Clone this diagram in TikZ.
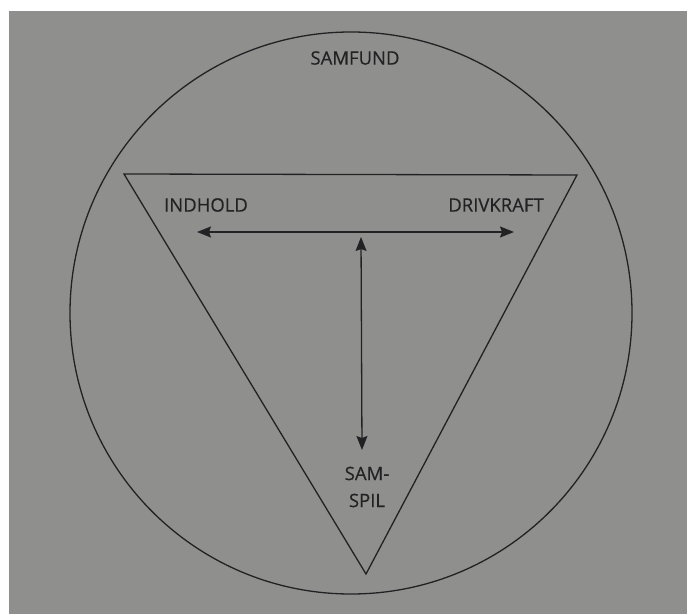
\documentclass[tikz,border=0pt]{standalone}
\usepackage{fontspec}
\setmainfont{Open Sans}
\newfontfamily\lblfont{Open Sans}[FakeBold=0.35]
\usetikzlibrary{arrows.meta}
\definecolor{paper}{RGB}{143,143,142}
\definecolor{ink}{RGB}{34,34,36}
\tikzset{
  lbl/.style={font=\lblfont\fontsize{18.5}{27}\selectfont, text=ink, inner sep=0pt, align=center},
  ln/.style={draw=ink, line width=1.3pt},
  arr/.style={ln, {Stealth[length=14pt,width=11pt,inset=2pt]}-{Stealth[length=14pt,width=11pt,inset=2pt]}}
}
\begin{document}
\begin{tikzpicture}[x=1pt,y=1pt]
\useasboundingbox (0,0) rectangle (687,614);
\fill[white] (0,0) rectangle (687,614);
\fill[paper] (9,0) rectangle (687,603);
% circle
\node[ln, circle, minimum size=562pt, inner sep=0pt] (samfundcircle) at (351,301) {};
% triangle
\coordinate (tl) at (124,440);
\coordinate (tr) at (577,439);
\coordinate (tb) at (366,40);
\draw[ln, line join=miter] (tl) -- (tr) -- (tb) -- cycle;
% labels
\node[lbl] (samfund) at (355,556) {SAMFUND};
\node[lbl] (indhold) at (206,409) {INDHOLD};
\node[lbl] (drivkraft) at (496,409) {DRIVKRAFT};
\node[lbl] (samspil) at (367,127) {SAM-\\SPIL};
% arrows
\coordinate (al) at (197,382);
\coordinate (ar) at (514,382);
\coordinate (vt) at (361,377);
\coordinate (vb) at (362,164);
\draw[arr] (al) -- (ar);
\draw[arr] (vt) -- (vb);
\end{tikzpicture}
\end{document}
